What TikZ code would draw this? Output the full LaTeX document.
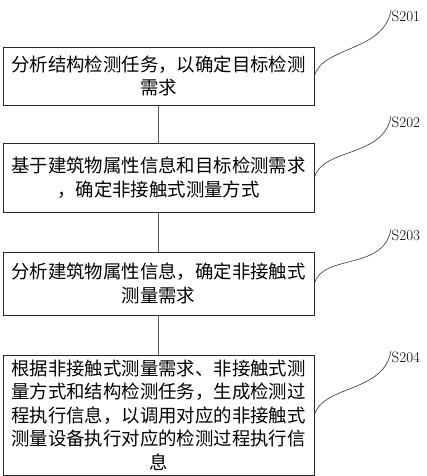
\documentclass[tikz,border=0pt]{standalone}
\usepackage{fontspec}
\newfontfamily\cjk{Noto Sans CJK SC}

\tikzset{
  stepbox/.style={draw=black!85, line width=0.9pt, rectangle, text width=296pt,
    inner xsep=7.5pt, inner ysep=0pt, align=center,
    font=\cjk\fontsize{18.4}{23.5}\selectfont},
  steplabel/.style={inner sep=0.5pt, anchor=north west, font=\fontsize{15}{15}\selectfont},
  flow/.style={line width=0.9pt, draw=black!65},
  tag/.style={line width=0.6pt, draw=black!80},
}

\begin{document}
\begin{tikzpicture}[x=1pt, y=-1pt]
    \useasboundingbox (0,0) rectangle (427,476);

    % steps
    \node[stepbox, minimum height=58pt] (s1) at (158.5,76) {分析结构检测任务，以确定目标检测\\需求};
    \node[stepbox, minimum height=69pt] (s2) at (158.5,177.5) {基于建筑物属性信息和目标检测需求\\，确定非接触式测量方式};
    \node[stepbox, minimum height=63pt] (s3) at (158.5,283.5) {分析建筑物属性信息，确定非接触式\\测量需求};
    \node[stepbox, minimum height=120pt] (s4) at (158.5,415) {根据非接触式测量需求、非接触式测\\量方式和结构检测任务，生成检测过\\程执行信息，以调用对应的非接触式\\测量设备执行对应的检测过程执行信\\息};

    \draw[flow] (s1) -- (s2);
    \draw[flow] (s2) -- (s3);
    \draw[flow] (s3) -- (s4);

    % step numbers
    \node[steplabel] (l1) at (391,10) {S201};
    \node[steplabel] (l2) at (391,116) {S202};
    \node[steplabel] (l3) at (391,229) {S203};
    \node[steplabel] (l4) at (391,351) {S204};

    \draw[tag] (s1.east) .. controls +(8,-30) and +(-7,42) .. (l1.north west);
    \draw[tag] (s2.east) .. controls +(8,-30) and +(-7,42) .. (l2.north west);
    \draw[tag] (s3.east) .. controls +(8,-30) and +(-7,42) .. (l3.north west);
    \draw[tag] (s4.east) .. controls +(8,-30) and +(-7,42) .. (l4.north west);
\end{tikzpicture}
\end{document}
